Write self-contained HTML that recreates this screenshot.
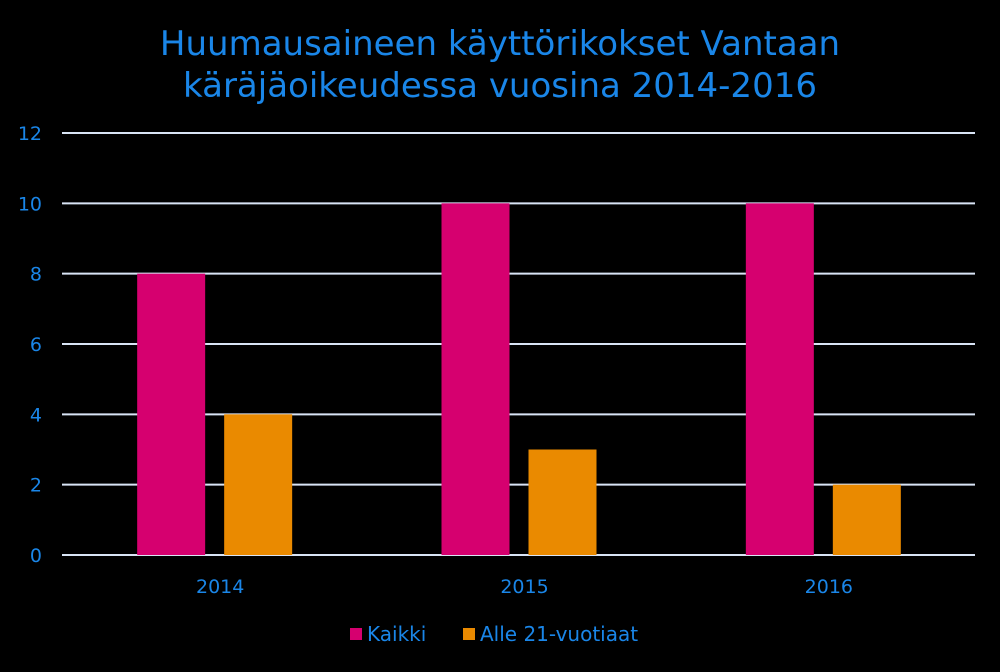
<!DOCTYPE html>
<html><head><meta charset="utf-8"><style>
html,body{margin:0;padding:0;background:#000;}
svg text{font-family:"DejaVu Sans","Liberation Sans",sans-serif;fill:#1a86e8;}
</style></head><body>
<svg id="chart" width="1000" height="667" viewBox="0 0 1000 667" xmlns="http://www.w3.org/2000/svg">
<rect width="1000" height="667" fill="#000"/>
<text x="500" y="55" text-anchor="middle" font-size="34">Huumausaineen käyttörikokset Vantaan</text>
<text x="500" y="97" text-anchor="middle" font-size="34">käräjäoikeudessa vuosina 2014-2016</text>
<g id="grid"></g><g id="bars"></g><g id="xlabels"></g>
<g>
<rect x="350" y="628" width="12" height="12" fill="#d6006f"/>
<text x="367" y="641" font-size="20">Kaikki</text>
<rect x="463" y="628" width="12" height="12" fill="#ea8a00"/>
<text x="480" y="641" font-size="20">Alle 21-vuotiaat</text>
</g>
</svg>
<script>
const categories=["2014","2015","2016"];
const kaikki=[8,10,10];
const alle21=[4,3,2];
const yTicks=[0,2,4,6,8,10,12];
const NS="http://www.w3.org/2000/svg";
const x0=62,x1=975,yBase=555,yTop=133,yMax=12;
const y=v=>yBase-(yBase-yTop)*v/yMax;
const band=(x1-x0)/categories.length;
const cx=i=>x0+band*(i+0.5)+6;
function mk(t,a,p){const e=document.createElementNS(NS,t);for(const k in a)e.setAttribute(k,a[k]);p.appendChild(e);return e;}
const grid=document.getElementById('grid');
yTicks.forEach(v=>{
 const l=mk('line',{x1:x0,x2:x1,y1:y(v),y2:y(v),stroke:'#d9e4f5','stroke-width':2},grid);
 
 
 const t=mk('text',{x:42,y:y(v)+7,'text-anchor':'end','font-size':19},grid);
 t.textContent=v;
 
 
});
const bars=document.getElementById('bars'),xl=document.getElementById('xlabels');
categories.forEach((c,i)=>{
 const w=68;
 const b1=mk('rect',{x:cx(i)-w-15,y:y(kaikki[i]),width:w,height:yBase-y(kaikki[i]),fill:'#d6006f'},bars);
 
 
 const b2=mk('rect',{x:cx(i)+4,y:y(alle21[i]),width:w,height:yBase-y(alle21[i]),fill:'#ea8a00'},bars);
 
 
 const t=mk('text',{x:cx(i),y:593,'text-anchor':'middle','font-size':19},xl);
 t.textContent=c;
 
 
});
</script>
</body></html>
